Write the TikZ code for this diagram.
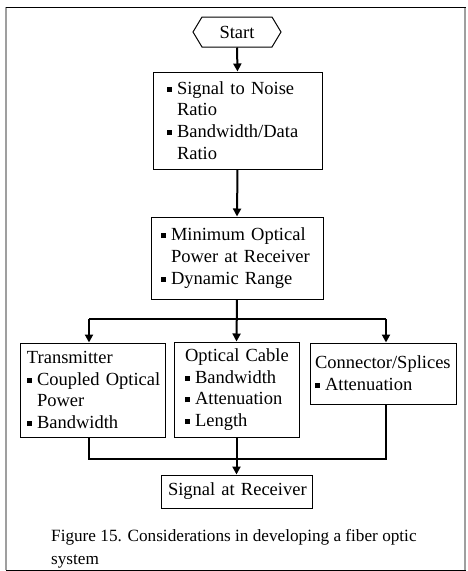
\documentclass[tikz,border=0pt]{standalone}
\usepackage{fontspec}
\setmainfont{Liberation Serif}
\usetikzlibrary{shapes.symbols,arrows.meta}
\newcommand{\bul}{\makebox[10pt][l]{\rule[2.5pt]{5pt}{5pt}}}
\newcommand{\bl}[1]{\mbox{\bul #1}}
\newcommand{\ind}[1]{\mbox{\hspace*{10pt}#1}}
\tikzset{
  box/.style={draw=black, line width=1pt, align=left, inner ysep=0pt,
    font=\fontsize{18.5}{21.7}\selectfont},
  arr/.style={line width=2pt, -{Triangle[width=8pt,length=8pt]}},
  conn/.style={line width=2pt},
}
\begin{document}
\begin{tikzpicture}[x=1pt,y=-1pt]
\useasboundingbox (0,0) rectangle (467,571);
% frame
\draw[gray!75, line width=2pt] (6,7) -- (6,570);
\draw[gray!75, line width=2pt] (465,7) -- (465,570);
\draw[black, line width=1pt] (6,7) -- (466,7);
\draw[black, line width=1pt] (6,570) -- (466,570);

\node[draw=black, line width=1pt, shape=signal, signal to=east and west,
  signal pointer angle=118, minimum width=88pt, minimum height=30pt, inner sep=0pt,
  font=\fontsize{18.5}{21.5}\selectfont] (start) at (237,32) {Start};

\node[box, text width=141pt, inner xsep=14pt, minimum height=97pt] (b1) at (237.5,120.5)
  {\bl{Signal to Noise}\\ \ind{Ratio}\\ \bl{Bandwidth/Data}\\ \ind{Ratio}\\[-3pt]};

\node[box, text width=152pt, inner xsep=10pt, minimum height=82pt] (b2) at (237,258)
  {\bl{Minimum Optical}\\ \ind{Power at Receiver}\\ \bl{Dynamic Range}\\[-3pt]};

\node[box, text width=131pt, inner xsep=7pt, minimum height=94pt] (t) at (92.5,390)
  {\mbox{Transmitter}\\ \bl{Coupled Optical}\\ \ind{Power}\\ \bl{Bandwidth}};

\node[box, text width=103pt, inner xsep=11pt, minimum height=95pt] (c) at (236.5,389.5)
  {\mbox{Optical Cable}\\ \bl{Bandwidth}\\ \bl{Attenuation}\\ \bl{Length}};

\node[box, text width=136pt, inner xsep=5pt, minimum height=61pt] (k) at (383,373.5)
  {\mbox{Connector/Splices}\\ \bl{Attenuation}};

\node[box, text width=137pt, inner xsep=7pt, minimum height=33pt] (r) at (236.5,491.5)
  {\mbox{Signal at Receiver}};

\node[anchor=north west, inner sep=0pt, align=left,
  font=\fontsize{17.2}{23}\selectfont] (cap) at (51,529)
  {Figure 15. Considerations in developing a fiber optic\\system};

% connectors
\coordinate (tl) at (89,319);
\coordinate (tr) at (386,319);
\coordinate (bl) at (89,459);
\coordinate (br) at (386,459);

\draw[arr] (start.south) -- (b1.north);
\draw[arr] (b1.south) -- (b2.north);
\draw[arr] (b2.south) -- (c.north);
\draw[conn] (tl) -- (tr);
\draw[arr] (tl) -- (tl |- t.north);
\draw[arr] (tr) -- (tr |- k.north);
\draw[conn] (bl |- t.south) -- (bl) -- (br) -- (br |- k.south);
\draw[arr] (c.south) -- (r.north);
\end{tikzpicture}
\end{document}
